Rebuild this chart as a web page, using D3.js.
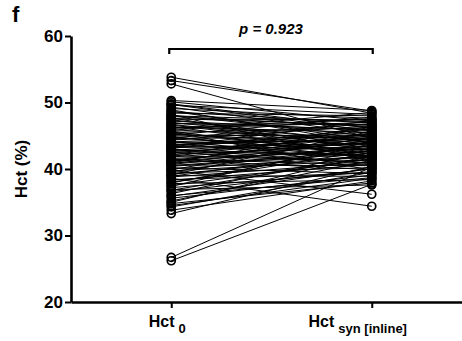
<!DOCTYPE html>
<html>
<head>
<meta charset="utf-8">
<script src="https://cdn.jsdelivr.net/npm/d3@7"></script>
<style>
  body { margin: 0; background: #fff; }
  svg { display: block; font-family: Arial, "Liberation Sans", sans-serif; }
</style>
</head>
<body>
<div id="chart"></div>
<script>
const categories = ['Hct0', 'HctSyn'];
const yTicks = [20, 30, 40, 50, 60];

// paired Hct values (%)
const hct0 = [
  53.8, 53.3, 52.8, 50.3, 50.1, 49.8, 49.6, 49.3, 49.1, 48.9,
  48.6, 48.4, 48.1, 47.9, 47.7, 47.5, 47.2, 47.0, 46.8, 46.6,
  46.3, 46.1, 45.9, 45.7, 45.5, 45.3, 45.0, 44.8, 44.6, 44.4,
  44.2, 44.0, 43.8, 43.6, 43.4, 43.2, 43.0, 42.8, 42.6, 42.4,
  42.2, 42.0, 41.8, 41.6, 41.4, 41.2, 41.0, 40.8, 40.6, 40.4,
  40.2, 40.0, 39.8, 39.6, 39.4, 39.2, 39.0, 38.8, 38.6, 38.3,
  38.0, 37.8, 37.5, 37.2, 36.9, 36.6, 36.3, 36.0, 35.6, 35.2,
  34.8, 34.3, 33.8, 33.3, 26.7, 26.2, 46.9, 45.1, 44.5, 43.7,
  43.1, 42.5, 41.9, 41.3, 40.7, 47.4, 46.4, 44.9, 42.9, 40.9,
  39.9, 48.2, 45.6, 38.9, 37.4, 43.3, 49.7, 48.7, 47.6, 46.7,
  46.2, 45.4, 44.7, 44.1, 43.5, 42.7, 42.1, 41.5, 41.1, 40.5,
  39.7, 39.1, 38.4, 37.9, 36.8, 35.9, 35.0, 34.5, 48.0, 45.8
];
const hctSyn = [
  48.4, 48.7, 44.6, 48.8, 47.2, 46.1, 48.2, 45.3, 47.6, 43.8,
  46.9, 48.0, 44.9, 46.4, 42.7, 47.4, 45.8, 44.1, 46.7, 43.2,
  45.5, 47.0, 44.4, 41.9, 46.2, 43.6, 45.1, 42.3, 44.8, 46.5,
  43.0, 44.2, 41.4, 45.6, 42.9, 43.9, 40.8, 44.7, 42.1, 45.0,
  43.4, 41.2, 44.0, 42.6, 39.9, 43.1, 41.7, 44.3, 40.5, 42.4,
  39.3, 41.9, 36.2, 43.7, 40.2, 42.0, 38.9, 41.0, 34.4, 40.7,
  42.8, 38.4, 41.5, 39.6, 37.6, 40.0, 42.5, 38.7, 39.1, 41.3,
  37.9, 39.5, 38.2, 40.4, 40.3, 37.7, 45.9, 47.8, 43.3, 44.5,
  46.0, 40.9, 45.4, 44.6, 43.5, 44.0, 42.2, 41.6, 42.0, 46.3,
  44.8, 41.1, 39.8, 43.0, 44.2, 47.3, 45.7, 44.3, 46.6, 43.7,
  47.5, 42.5, 46.8, 41.8, 45.2, 43.8, 46.4, 40.6, 45.3, 42.7,
  41.4, 45.7, 39.4, 43.6, 41.8, 40.1, 42.1, 38.6, 47.1, 48.5
];
const pLabel = 'p = 0.923';

const width = 462, height = 341;
const margin = { top: 36, right: -10, bottom: 39, left: 71 };

const svg = d3.select('#chart').append('svg')
  .attr('width', width)
  .attr('height', height);

const x = d3.scalePoint()
  .domain(categories)
  .range([margin.left, width - margin.right])
  .padding(0.5);

const y = d3.scaleLinear()
  .domain([20, 60])
  .range([height - margin.bottom, margin.top]);

const pairs = hct0.map((v, i) => [v, hctSyn[i]]);

// connecting lines
svg.append('g')
  .selectAll('line')
  .data(pairs)
  .join('line')
  .attr('x1', x('Hct0'))
  .attr('x2', x('HctSyn'))
  .attr('y1', d => y(d[0]))
  .attr('y2', d => y(d[1]))
  .attr('stroke', '#000')
  .attr('stroke-width', 1);

// open circles
categories.forEach((c, k) => {
  svg.append('g')
    .selectAll('circle')
    .data(pairs)
    .join('circle')
    .attr('cx', x(c))
    .attr('cy', d => y(d[k]))
    .attr('r', 4)
    .attr('fill', 'none')
    .attr('stroke', '#000')
    .attr('stroke-width', 1.7);
});

// y axis
const yAxis = svg.append('g')
  .attr('transform', `translate(${margin.left},0)`)
  .call(d3.axisLeft(y).tickValues(yTicks).tickSize(6).tickSizeOuter(0).tickPadding(2));
yAxis.select('.domain').attr('stroke-width', 2.6);
yAxis.selectAll('.tick line').attr('stroke-width', 2);
yAxis.selectAll('.tick text')
  .attr('font-size', 17).attr('font-weight', 'bold').attr('fill', '#000')
  .attr('font-family', 'Arial, "Liberation Sans", sans-serif');

// x axis
const xAxis = svg.append('g')
  .attr('transform', `translate(0,${y(20)})`)
  .call(d3.axisBottom(x).tickSize(6).tickSizeOuter(0).tickFormat(''));
xAxis.select('.domain').attr('stroke-width', 2.6);
xAxis.selectAll('.tick line').attr('stroke-width', 2);

const subs = { Hct0: '0', HctSyn: 'syn [inline]' };
const shift = { Hct0: -4, HctSyn: -14 };
categories.forEach(c => {
  const t = svg.append('text')
    .attr('x', x(c) + shift[c])
    .attr('y', y(20) + 25)
    .attr('text-anchor', 'middle')
    .attr('font-weight', 'bold')
    .attr('font-size', 16);
  t.append('tspan').text('Hct');
  t.append('tspan').attr('dx', 4).attr('dy', 6).attr('font-size', 13).text(subs[c]);
});

// y label
svg.append('text')
  .attr('transform', `translate(27,${(y(20) + y(60)) / 2}) rotate(-90)`)
  .attr('text-anchor', 'middle')
  .attr('font-weight', 'bold')
  .attr('font-size', 17)
  .text('Hct (%)');

// panel letter
svg.append('text')
  .attr('x', 12).attr('y', 22)
  .attr('font-weight', 'bold')
  .attr('font-size', 22)
  .text('f');

// significance bracket
const bx1 = x('Hct0') - 2, bx2 = x('HctSyn') + 1, by = 49;
svg.append('path')
  .attr('d', `M${bx1},${by + 5}V${by}H${bx2}V${by + 5}`)
  .attr('fill', 'none')
  .attr('stroke', '#000')
  .attr('stroke-width', 2.2);
svg.append('text')
  .attr('x', (bx1 + bx2) / 2)
  .attr('y', 34)
  .attr('text-anchor', 'middle')
  .attr('font-weight', 'bold')
  .attr('font-style', 'italic')
  .attr('font-size', 15)
  .text(pLabel);
</script>
</body>
</html>
